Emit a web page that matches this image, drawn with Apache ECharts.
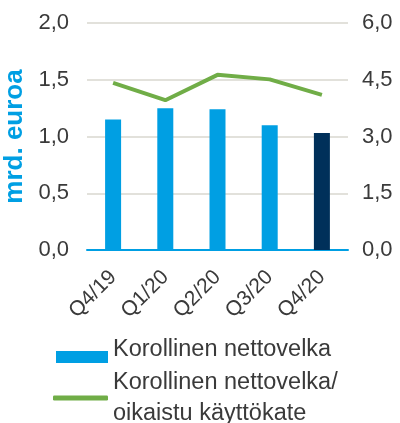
<!DOCTYPE html>
<html>
<head>
<meta charset="utf-8">
<script src="https://cdn.jsdelivr.net/npm/echarts@6/dist/echarts.min.js"></script>
<style>
  html, body { margin: 0; padding: 0; background: #fff; }
  #chart { width: 400px; height: 423px; }
</style>
</head>
<body>
<div id="chart"></div>
<script>
// kvartaalit
const categories = ['Q4/19', 'Q1/20', 'Q2/20', 'Q3/20', 'Q4/20'];
// korollinen nettovelka, mrd. euroa (vasen akseli)
const netDebt = [1.15, 1.25, 1.24, 1.10, 1.03];
// nettovelka / oikaistu käyttökate (oikea akseli)
const debtRatio = [4.42, 3.96, 4.63, 4.51, 4.10];

const fmt = v => v.toFixed(1).replace('.', ',');
const textColor = '#3a3a3a';
const font = 'Liberation Sans, Arial, sans-serif';

const chart = echarts.init(document.getElementById('chart'));

chart.setOption({
  animation: false,
  textStyle: { fontFamily: font },
  grid: { left: 87, right: 52, top: 23, bottom: 173, outerBoundsMode: 'none' },
  legend: [
    {
      left: 51, top: 333,
      itemWidth: 52, itemHeight: 12,
      icon: 'rect',
      data: ['Korollinen nettovelka'],
      formatter: n => '{t|' + n + '}',
      textStyle: {
        rich: { t: { fontSize: 23.5, color: textColor, fontFamily: font, padding: [0, 0, 14, 0] } }
      }
    },
    {
      left: 48, top: 362,
      itemWidth: 55, itemHeight: 5,
      icon: 'roundRect',
      data: ['Korollinen nettovelka/\noikaistu käyttökate'],
      textStyle: { fontSize: 23.5, lineHeight: 31, color: textColor, fontFamily: font }
    }
  ],
  xAxis: {
    type: 'category',
    data: categories,
    axisLine: { lineStyle: { color: '#009FE3', width: 2 } },
    axisTick: { show: false },
    axisLabel: { rotate: 45, margin: 24, fontSize: 21, color: textColor, fontFamily: font }
  },
  yAxis: [
    {
      type: 'value', min: 0, max: 2, interval: 0.5,
      name: 'mrd. euroa', nameLocation: 'middle', nameGap: 51,
      nameTextStyle: { color: '#009FE3', fontWeight: 'bold', fontSize: 26, fontFamily: font },
      axisLine: { show: false }, axisTick: { show: false },
      axisLabel: { margin: 18, fontSize: 22, color: textColor, formatter: fmt, fontFamily: font },
      splitLine: { lineStyle: { color: '#E2E1DB', width: 2 } }
    },
    {
      type: 'value', min: 0, max: 6, interval: 1.5,
      axisLine: { show: false }, axisTick: { show: false },
      axisLabel: { margin: 14, fontSize: 22, color: textColor, formatter: fmt, fontFamily: font },
      splitLine: { show: false }
    }
  ],
  series: [
    {
      name: 'Korollinen nettovelka',
      type: 'bar',
      barWidth: 16,
      itemStyle: { color: '#009FE3' },
      data: netDebt.map((v, i) => i === netDebt.length - 1
        ? { value: v, itemStyle: { color: '#00305A' } }
        : v),
      z: 2
    },
    {
      name: 'Korollinen nettovelka/\noikaistu käyttökate',
      type: 'line',
      yAxisIndex: 1,
      symbol: 'none',
      lineStyle: { color: '#70AD47', width: 4 },
      itemStyle: { color: '#70AD47' },
      data: debtRatio,
      z: 3
    }
  ]
});
</script>
</body>
</html>
